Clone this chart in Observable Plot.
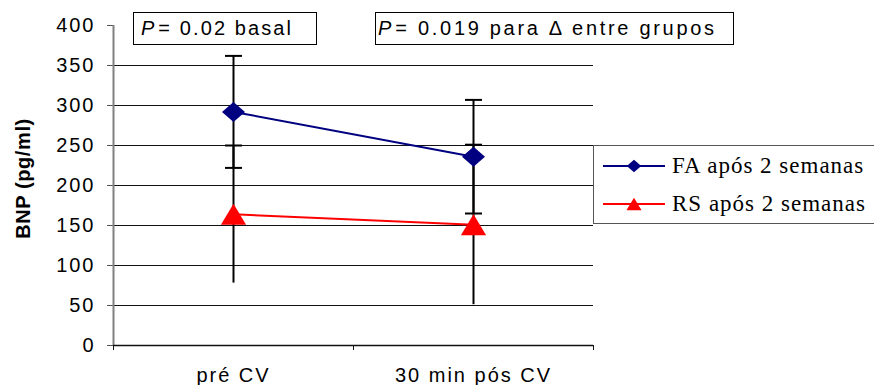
<!DOCTYPE html>
<html>
<head>
<meta charset="utf-8">
<script src="https://cdn.jsdelivr.net/npm/d3@7"></script>
<script src="https://cdn.jsdelivr.net/npm/@observablehq/plot@0.6"></script>
<style>
  body { margin: 0; background: #fff; }
  #chart { position: relative; width: 874px; height: 385px; font-family: Arial, "Liberation Sans", sans-serif; }
  #chart > svg { position: absolute; left: 0; top: 0; }
  #chart > svg text { letter-spacing: 2px; }
  #chart > svg g[aria-label="text"] text { letter-spacing: 0.6px; }
  .note { position: absolute; top: 12px; height: 33px; box-sizing: border-box; border: 1.5px solid #000;
          background: #fff; font-size: 20px; line-height: 30px; padding-left: 7px; letter-spacing: 2.1px;
          white-space: nowrap; color: #000; }
  .note.wide { letter-spacing: 2.7px; padding-left: 2px; }
  .note i { letter-spacing: 0; margin-right: 4px; }
  .legend { position: absolute; left: 593px; top: 145px; width: 281px; height: 79px; box-sizing: border-box;
            border: 1px solid #555; border-right: none; background: #fff;
            font-family: "Liberation Serif", "Times New Roman", serif; font-size: 23px; color: #000; }
  .legend .row { position: absolute; left: 8px; height: 26px; display: flex; align-items: center; white-space: nowrap; letter-spacing: 1px; }
  .legend .row svg { display: block; margin-right: 6px; }
</style>
</head>
<body>
<div id="chart"></div>
<script>
// Categories and series values (BNP, pg/ml): mean and error-bar half-length
const categories = ["pré CV", "30 min pós CV"];
const seriesNames = ["FA após 2 semanas", "RS após 2 semanas"];
const faMean = [292, 236];
const faErr = [70, 71];
const rsMean = [164, 151];
const rsErr = [86, 100];
const yTicks = [0, 50, 100, 150, 200, 250, 300, 350, 400];
const notes = ["= 0.02 basal", "= 0.019 para Δ entre grupos"];

const navy = "#000080";
const red = "#ff0000";

const faRows = categories.map((c, i) => ({i, mean: faMean[i], err: faErr[i]}));
const rsRows = categories.map((c, i) => ({i, mean: rsMean[i], err: rsErr[i]}));

// Marker shapes: r = sqrt(size / PI)
const capSymbol = {draw(ctx, size) { const r = Math.sqrt(size / Math.PI); ctx.moveTo(-r, 0); ctx.lineTo(r, 0); }};
const diamondSymbol = {draw(ctx, size) {
  const r = Math.sqrt(size / Math.PI);
  ctx.moveTo(0, -r); ctx.lineTo(1.15 * r, 0); ctx.lineTo(0, r); ctx.lineTo(-1.15 * r, 0); ctx.closePath();
}};
const triangleSymbol = {draw(ctx, size) {
  const r = Math.sqrt(size / Math.PI);
  ctx.moveTo(0, -r); ctx.lineTo(1.2 * r, r); ctx.lineTo(-1.2 * r, r); ctx.closePath();
}};

const grid = yTicks.filter(t => t > 0 && t < 400);

const plot = Plot.plot({
  width: 874,
  height: 385,
  marginLeft: 113,
  marginRight: 281,
  marginTop: 25,
  marginBottom: 40,
  style: {fontFamily: "Arial, 'Liberation Sans', sans-serif", fontSize: "20px", color: "#000", background: "transparent"},
  x: {type: "linear", domain: [-0.5, categories.length - 0.5], axis: null},
  y: {domain: [0, 400], axis: null},
  marks: [
    // horizontal gridlines
    Plot.ruleY(grid, {x1: -0.5, x2: categories.length - 0.5, stroke: "#111", strokeWidth: 1}),
    // y axis
    Plot.axisY({ticks: yTicks, tickSize: 6, tickPadding: 12, stroke: "#555", fontSize: 20, label: null}),
    Plot.ruleX([-0.5], {y1: 0, y2: 400, stroke: "#808080", strokeWidth: 2}),
    // x axis: category separators and labels
    Plot.ruleY([0], {x1: -0.5, x2: categories.length - 0.5, stroke: "#111", strokeWidth: 1.5}),
    Plot.axisX({ticks: d3.range(categories.length + 1).map(k => k - 0.5), tickSize: 5, tickFormat: () => "", stroke: "#111", label: null}),
    Plot.axisX({ticks: d3.range(categories.length), tickSize: 0, tickPadding: 22, tickFormat: i => categories[i], fontSize: 20, label: null}),
    // y axis title
    Plot.text(["BNP (pg/ml)"], {frameAnchor: "left", textAnchor: "middle", dx: -90, dy: -7, rotate: -90, fontWeight: "bold", fontSize: 20}),
    // error bars
    Plot.ruleX(faRows, {x: "i", y1: d => d.mean - d.err, y2: d => d.mean + d.err, stroke: "#000", strokeWidth: 2}),
    Plot.ruleX(rsRows, {x: "i", y1: d => d.mean - d.err, y2: d => d.mean + d.err, stroke: "#000", strokeWidth: 2}),
    Plot.dot(faRows, {x: "i", y: d => d.mean + d.err, symbol: capSymbol, r: 8.5, stroke: "#000", strokeWidth: 2, fill: "none"}),
    Plot.dot(faRows, {x: "i", y: d => d.mean - d.err, symbol: capSymbol, r: 8.5, stroke: "#000", strokeWidth: 2, fill: "none"}),
    Plot.dot(rsRows, {x: "i", y: d => d.mean + d.err, symbol: capSymbol, r: 8.5, stroke: "#000", strokeWidth: 2, fill: "none"}),
    // series lines
    Plot.line(faRows, {x: "i", y: "mean", stroke: navy, strokeWidth: 2}),
    Plot.line(rsRows, {x: "i", y: "mean", stroke: red, strokeWidth: 2}),
    // markers
    Plot.dot(faRows, {x: "i", y: "mean", symbol: diamondSymbol, r: 10, fill: navy, stroke: "none"}),
    Plot.dot(rsRows, {x: "i", y: "mean", symbol: triangleSymbol, r: 10.5, fill: red, stroke: "none"})
  ]
});

const chart = document.getElementById("chart");
chart.appendChild(plot);

// annotation boxes
const noteBoxes = [{left: 133, width: 184, cls: "note"}, {left: 375, width: 359, cls: "note wide"}];
notes.forEach((t, k) => {
  const div = document.createElement("div");
  div.className = noteBoxes[k].cls;
  div.style.left = noteBoxes[k].left + "px";
  div.style.width = noteBoxes[k].width + "px";
  div.innerHTML = "<i>P</i>" + t;
  chart.appendChild(div);
});

// legend
const legend = document.createElement("div");
legend.className = "legend";
const swatch = (color, sym) => {
  const ns = "http://www.w3.org/2000/svg";
  const s = document.createElementNS(ns, "svg");
  s.setAttribute("width", 64); s.setAttribute("height", 20);
  const line = document.createElementNS(ns, "line");
  line.setAttribute("x1", 1); line.setAttribute("x2", 63); line.setAttribute("y1", 10); line.setAttribute("y2", 10);
  line.setAttribute("stroke", color); line.setAttribute("stroke-width", 2);
  s.appendChild(line);
  const p = document.createElementNS(ns, "path");
  p.setAttribute("d", d3.symbol(sym, Math.PI * 6.3 * 6.3)());
  p.setAttribute("transform", "translate(32,10)");
  p.setAttribute("fill", color);
  s.appendChild(p);
  return s;
};
[[navy, diamondSymbol], [red, triangleSymbol]].forEach(([color, sym], k) => {
  const row = document.createElement("div");
  row.className = "row";
  row.style.top = (k === 0 ? 7 : 45) + "px";
  row.appendChild(swatch(color, sym));
  const span = document.createElement("span");
  span.textContent = seriesNames[k];
  row.appendChild(span);
  legend.appendChild(row);
});
chart.appendChild(legend);
</script>
</body>
</html>
